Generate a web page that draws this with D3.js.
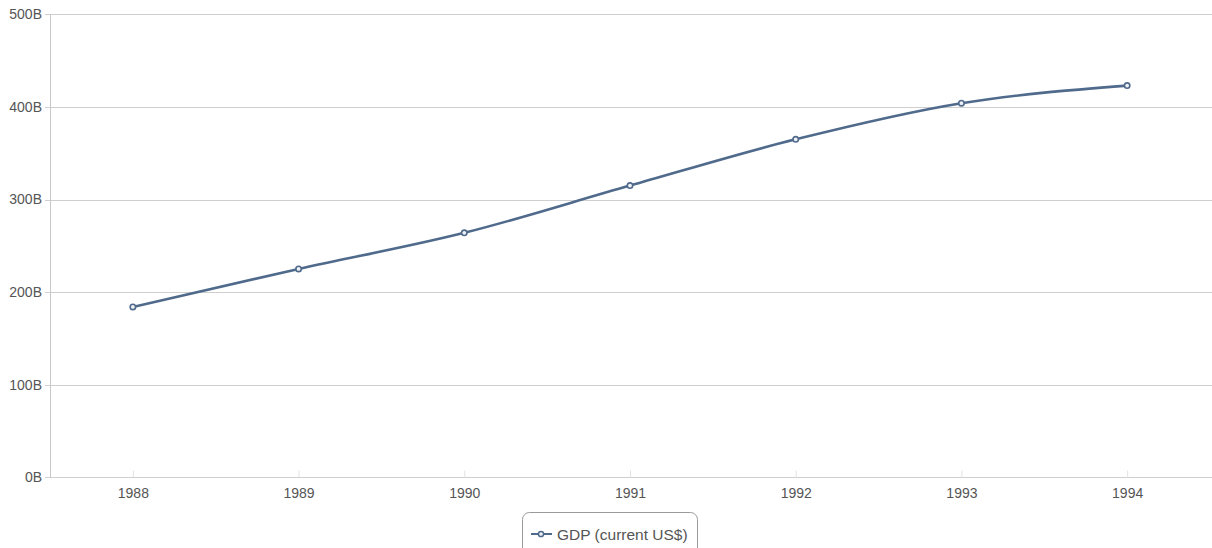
<!DOCTYPE html>
<html>
<head>
<meta charset="utf-8">
<script src="https://cdn.jsdelivr.net/npm/d3@7"></script>
<style>
  html, body { margin: 0; padding: 0; background: #fff; }
  svg { display: block; }
  text { font-family: "Liberation Sans", Arial, sans-serif; fill: #555; }
</style>
</head>
<body>
<svg id="chart" width="1212" height="548"></svg>
<script>
// GDP (current US$), billions
const years = ["1988", "1989", "1990", "1991", "1992", "1993", "1994"];
const gdp = [184, 225, 264, 315, 365, 404, 423];
const yTicks = [0, 100, 200, 300, 400, 500];
const seriesName = "GDP (current US$)";

const W = 1212, H = 548;
const margin = { left: 50, right: 2, top: 14.3, bottom: 70.7 };
const svg = d3.select("#chart");

const x = d3.scalePoint()
  .domain(years)
  .range([margin.left, W - margin.right])
  .padding(0.5);

const y = d3.scaleLinear()
  .domain([0, 500])
  .range([H - margin.bottom, margin.top]);

// horizontal gridlines (with a short tick left of the axis)
svg.append("g")
  .selectAll("line")
  .data(yTicks)
  .join("line")
  .attr("x1", margin.left - 5)
  .attr("x2", W)
  .attr("y1", d => Math.round(y(d)) + 0.5)
  .attr("y2", d => Math.round(y(d)) + 0.5)
  .attr("stroke", "#cfcfcf")
  .attr("stroke-width", 1.2);

// left axis line
svg.append("line")
  .attr("x1", margin.left + 0.5).attr("x2", margin.left + 0.5)
  .attr("y1", Math.round(y(500))).attr("y2", Math.round(y(0)) + 1)
  .attr("stroke", "#c8c8c8");

// y-axis labels
const yAxis = d3.axisLeft(y)
  .tickValues(yTicks)
  .tickSize(0)
  .tickPadding(8)
  .tickFormat(d => d + "B");
const gy = svg.append("g")
  .attr("transform", `translate(${margin.left},0)`)
  .call(yAxis);
gy.select(".domain").remove();
gy.selectAll("text")
  .attr("font-size", 14)
  .attr("fill", "#555")
  .style("font-family", '"Liberation Sans", Arial, sans-serif');

// x-axis: faint inner ticks and labels
const xAxis = d3.axisBottom(x).tickSize(-7).tickPadding(11);
const gx = svg.append("g")
  .attr("transform", `translate(0,${Math.round(y(0)) + 0.5})`)
  .call(xAxis);
gx.select(".domain").remove();
gx.selectAll(".tick line").attr("stroke", "#e2e2e2");
gx.selectAll("text")
  .attr("font-size", 14)
  .attr("fill", "#555")
  .style("font-family", '"Liberation Sans", Arial, sans-serif');

// series line
const color = "#506a8c";
const line = d3.line()
  .x((d, i) => x(years[i]))
  .y(d => y(d))
  .curve(d3.curveMonotoneX);

svg.append("path")
  .datum(gdp)
  .attr("fill", "none")
  .attr("stroke", color)
  .attr("stroke-width", 2.6)
  .attr("stroke-linejoin", "round")
  .attr("d", line);

svg.append("g")
  .selectAll("circle")
  .data(gdp)
  .join("circle")
  .attr("cx", (d, i) => x(years[i]))
  .attr("cy", d => y(d))
  .attr("r", 2.7)
  .attr("fill", "#eef1f5")
  .attr("stroke", color)
  .attr("stroke-width", 1.6);

// legend
const lg = svg.append("g").attr("transform", "translate(522,512)");
lg.append("rect")
  .attr("x", 0.5).attr("y", 0.5)
  .attr("width", 175).attr("height", 44)
  .attr("rx", 7)
  .attr("fill", "#fff")
  .attr("stroke", "#9a9a9a");
lg.append("line")
  .attr("x1", 9).attr("x2", 30)
  .attr("y1", 22).attr("y2", 22)
  .attr("stroke", color).attr("stroke-width", 2);
lg.append("circle")
  .attr("cx", 19).attr("cy", 22).attr("r", 2.6)
  .attr("fill", "#eef1f5").attr("stroke", color).attr("stroke-width", 1.5);
lg.append("text")
  .attr("x", 35).attr("y", 28)
  .attr("font-size", 15.5)
  .attr("fill", "#555")
  .text(seriesName);
</script>
</body>
</html>
